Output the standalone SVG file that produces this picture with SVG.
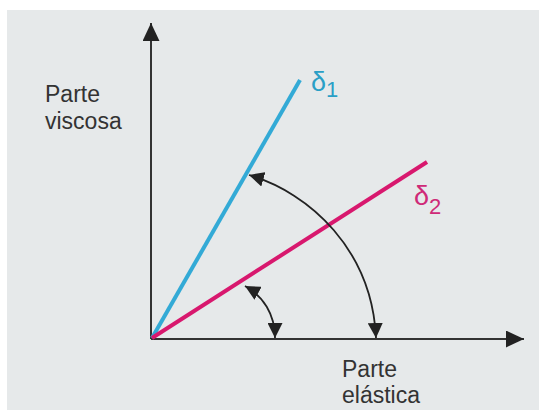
<svg xmlns="http://www.w3.org/2000/svg" width="539" height="410" viewBox="0 0 539 410">
  <defs>
    <style>
      .lbl { font-family: "Liberation Sans", Arial, sans-serif; font-size: 23px; fill: #333; }
      .sym { font-family: "Liberation Sans", "DejaVu Sans", sans-serif; font-size: 27px; }
      .axis { stroke: #333; stroke-width: 2; fill: none; }
      .angle { stroke: #222; stroke-width: 1.8; fill: none; }
    </style>
    <marker id="axhead" markerUnits="userSpaceOnUse" markerWidth="19" markerHeight="17" refX="18" refY="8.5" orient="auto">
      <path d="M0,0 L18,8.5 L0,17 z" fill="#222"/>
    </marker>
    <marker id="anghead" markerUnits="userSpaceOnUse" markerWidth="16" markerHeight="15" refX="15" refY="7.5" orient="auto-start-reverse">
      <path d="M0,0 L15,7.5 L0,15 z" fill="#222"/>
    </marker>
  </defs>

  <rect x="0" y="0" width="539" height="410" fill="#ffffff"/>
  <rect x="7" y="10" width="532" height="400" fill="#e6e9ea"/>

  <g id="connectors">
    <line class="axis" x1="151" y1="339" x2="151" y2="23" marker-end="url(#axhead)"/>
    <line class="axis" x1="151" y1="339" x2="524" y2="339" marker-end="url(#axhead)"/>
    <line id="delta1-line" x1="152" y1="338" x2="300" y2="80" stroke="#33aad6" stroke-width="4"/>
    <line id="delta2-line" x1="152" y1="338" x2="427" y2="162" stroke="#d8186e" stroke-width="4"/>
    <path class="angle" d="M249,175 C310,193 372,250 376,338" marker-start="url(#anghead)" marker-end="url(#anghead)"/>
    <path class="angle" d="M245,286 C263,296 275,314 275,338" marker-start="url(#anghead)" marker-end="url(#anghead)"/>
  </g>

  <g id="label-viscosa">
    <text class="lbl" x="45" y="102">Parte</text>
    <text class="lbl" x="45" y="129">viscosa</text>
  </g>
  <g id="label-elastica">
    <text class="lbl" x="342" y="377">Parte</text>
    <text class="lbl" x="342" y="403">elástica</text>
  </g>
  <g id="label-delta1">
    <text class="sym" x="311" y="91" fill="#2a9fc6">δ<tspan font-size="22" dy="6">1</tspan></text>
  </g>
  <g id="label-delta2">
    <text class="sym" x="414" y="205" fill="#cf2a78">δ<tspan font-size="22" dy="9">2</tspan></text>
  </g>
</svg>
